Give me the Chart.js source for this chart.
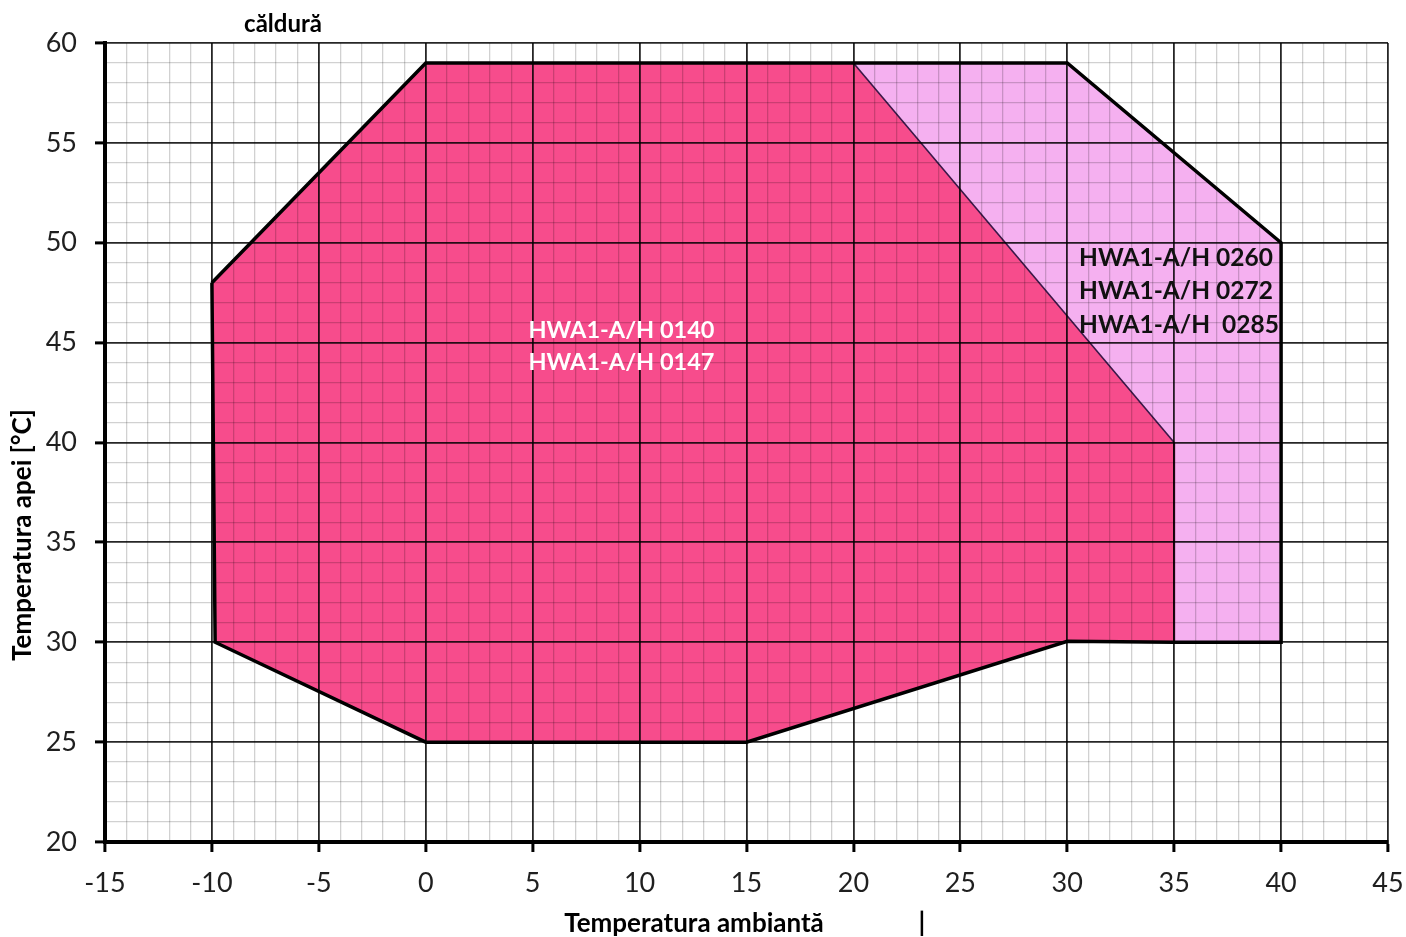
<!DOCTYPE html>
<html>
<head>
<meta charset="utf-8">
<script src="https://cdn.jsdelivr.net/npm/chart.js@4.4.1/dist/chart.umd.min.js"></script>
<style>
  html, body { margin: 0; padding: 0; background: #fff; }
  #wrap { width: 1406px; height: 937px; }
</style>
</head>
<body>
<div id="wrap"><canvas id="c" width="1406" height="937"></canvas></div>
<script>
// Operating envelope (heating): ambient temperature vs water temperature
const xTicks = [-15, -10, -5, 0, 5, 10, 15, 20, 25, 30, 35, 40, 45];
const yTicks = [20, 25, 30, 35, 40, 45, 50, 55, 60];

// Smaller units (0140 / 0147) envelope
const smallAmbient = [-10, 0, 20, 35, 35, 30, 15, 0, -9.85, -10];
const smallWater   = [48, 59, 59, 40, 30, 30.05, 25, 25, 30, 48];

// Larger units (0260 / 0272 / 0285) envelope
const bigAmbient = [-10, 0, 30, 40, 40, 35, 30, 15, 0, -9.85, -10];
const bigWater   = [48, 59, 59, 50, 30, 30, 30.05, 25, 25, 30, 48];

// Boundary between the two envelopes
const diagAmbient = [20, 35];
const diagWater   = [59, 40];
const stepAmbient = [35, 35];
const stepWater   = [40, 30];

const smallLabels = ['HWA1-A/H 0140', 'HWA1-A/H 0147'];
const bigLabels = ['HWA1-A/H 0260', 'HWA1-A/H 0272', 'HWA1-A/H  0285'];

const toPts = (xs, ys) => xs.map((x, i) => ({ x: x, y: ys[i] }));

const FONT = 'Lato, "Open Sans", sans-serif';

const textPlugin = {
  id: 'texts',
  afterDraw(chart) {
    const { ctx, scales } = chart;
    const xs = scales.x, ys = scales.y;
    ctx.save();
    ctx.textBaseline = 'middle';

    // labels inside the envelopes
    ctx.font = 'bold 23.5px ' + FONT;
    ctx.fillStyle = '#ffffff';
    ctx.textAlign = 'center';
    smallLabels.forEach((t, i) => {
      ctx.fillText(t, xs.getPixelForValue(9.15), ys.getPixelForValue(45.6 - i * 1.6));
    });
    ctx.font = 'bold 24.5px ' + FONT;
    ctx.fillStyle = '#111111';
    ctx.textAlign = 'left';
    bigLabels.forEach((t, i) => {
      ctx.fillText(t, xs.getPixelForValue(30.55), ys.getPixelForValue(49.25 - i * 1.68));
    });

    // chart title and axis titles
    ctx.fillStyle = '#000';
    ctx.textAlign = 'center';
    ctx.font = 'bold 24px ' + FONT;
    ctx.fillText('căldură', 283, 24);
    ctx.font = 'bold 26px ' + FONT;
    ctx.fillText('Temperatura ambiantă', 694, 924);
    ctx.fillText('|', 922, 924);
    ctx.translate(23, 535);
    ctx.rotate(-Math.PI / 2);
    ctx.fillText('Temperatura apei [°C]', 0, 0);
    ctx.restore();
  }
};

const majorX = v => xTicks.includes(v);
const majorY = v => yTicks.includes(v);

const lineDs = (xs, ys, color, width) => ({
  data: toPts(xs, ys),
  borderColor: color,
  borderWidth: width,
  fill: false,
  pointRadius: 0,
  tension: 0
});

const fillDs = (xs, ys, color) => ({
  data: toPts(xs, ys),
  backgroundColor: color,
  borderWidth: 0,
  borderColor: 'rgba(0,0,0,0)',
  fill: 'shape',
  pointRadius: 0,
  tension: 0
});

new Chart(document.getElementById('c'), {
  type: 'line',
  data: {
    // first dataset is drawn on top
    datasets: [
      lineDs(bigAmbient, bigWater, '#000', 3.5),
      lineDs(stepAmbient, stepWater, '#5a1030', 2),
      lineDs(diagAmbient, diagWater, '#3a1848', 1.6),
      fillDs(smallAmbient, smallWater, 'rgb(247,76,140)'),
      fillDs(bigAmbient, bigWater, 'rgb(245,176,240)')
    ]
  },
  options: {
    responsive: false,
    animation: false,
    layout: { padding: { top: 43, right: 18, left: 0, bottom: 0 } },
    plugins: { legend: { display: false }, tooltip: { enabled: false }, title: { display: false } },
    scales: {
      x: {
        type: 'linear',
        min: -15, max: 45,
        afterFit: s => { s.height = 95; s.paddingLeft = 0; s.paddingRight = 0; },
        afterBuildTicks: s => { s.ticks = []; for (let v = -15; v <= 45; v++) s.ticks.push({ value: v }); },
        ticks: {
          autoSkip: false,
          maxRotation: 0,
          padding: 15,
          color: '#1f1f1f',
          font: { family: FONT, size: 27 },
          callback: v => (majorX(v) ? String(v) : '')
        },
        grid: {
          z: 1,
          color: c => (majorX(c.tick.value) ? 'rgba(0,0,0,0.85)' : 'rgba(0,0,0,0.18)'),
          lineWidth: c => (majorX(c.tick.value) ? 1.8 : 1.3),
          tickColor: c => (majorX(c.tick.value) ? '#000' : 'rgba(0,0,0,0)'),
          tickWidth: 3,
          tickLength: 10,
          drawTicks: true
        },
        border: { display: true, color: '#000', width: 4, z: 2 }
      },
      y: {
        type: 'linear',
        min: 20, max: 60,
        afterFit: s => { s.width = 105; s.paddingTop = 0; s.paddingBottom = 0; },
        afterBuildTicks: s => { s.ticks = []; for (let v = 20; v <= 60; v++) s.ticks.push({ value: v }); },
        ticks: {
          autoSkip: false,
          padding: 18,
          color: '#1f1f1f',
          font: { family: FONT, size: 27 },
          callback: v => (majorY(v) ? String(v) : '')
        },
        grid: {
          z: 1,
          color: c => (majorY(c.tick.value) ? 'rgba(0,0,0,0.85)' : 'rgba(0,0,0,0.18)'),
          lineWidth: c => (majorY(c.tick.value) ? 1.8 : 1.3),
          tickColor: c => (majorY(c.tick.value) ? '#000' : 'rgba(0,0,0,0)'),
          tickWidth: 3,
          tickLength: 10,
          drawTicks: true
        },
        border: { display: true, color: '#000', width: 4, z: 2 }
      }
    }
  },
  plugins: [textPlugin]
});
</script>
</body>
</html>
